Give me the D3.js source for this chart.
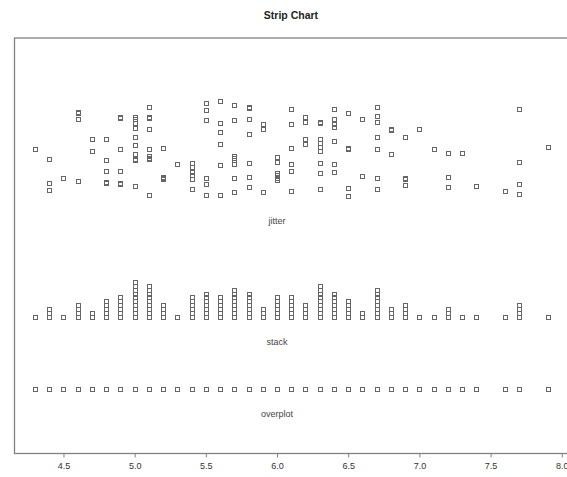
<!DOCTYPE html>
<html>
<head>
<meta charset="utf-8">
<script src="https://cdn.jsdelivr.net/npm/d3@7"></script>
<style>
  body { margin: 0; background: #fff; }
  text { font-family: "Liberation Sans", Arial, sans-serif; }
</style>
</head>
<body>
<div class="canvas"></div>
<script>
// sepal length values (distinct) and how many flowers have each one
const sepalLength = [4.3, 4.4, 4.5, 4.6, 4.7, 4.8, 4.9, 5.0, 5.1, 5.2, 5.3, 5.4, 5.5, 5.6, 5.7, 5.8, 5.9,
  6.0, 6.1, 6.2, 6.3, 6.4, 6.5, 6.6, 6.7, 6.8, 6.9, 7.0, 7.1, 7.2, 7.3, 7.4, 7.6, 7.7, 7.9]
const counts = [1, 3, 1, 4, 2, 5, 6, 10, 9, 4, 1, 6, 7, 6, 8, 7, 3,
  6, 6, 4, 9, 7, 5, 2, 8, 3, 4, 1, 1, 3, 1, 1, 1, 4, 1]

// vertical jitter, as a fraction of the jitter amount
const jitterOffsets = [
  [-0.01],
  [-0.23, -0.73, -0.86],
  [-0.61],
  [0.75, 0.73, 0.61, -0.68],
  [0.19, -0.05],
  [0.19, -0.25, -0.47, -0.70, -0.72],
  [0.64, 0.63, -0.01, -0.48, -0.73, -0.74],
  [0.64, 0.60, 0.53, 0.42, 0.23, 0.07, -0.12, -0.23, -0.24, -0.78],
  [0.86, 0.64, 0.63, 0.40, -0.01, -0.17, -0.20, -0.23, -0.98],
  [0.00, -0.59, -0.61, -0.64],
  [-0.32],
  [-0.31, -0.40, -0.50, -0.56, -0.64, -0.84],
  [0.93, 0.80, 0.59, 0.58, -0.61, -0.75, -0.97],
  [0.98, 0.53, 0.34, 0.09, -0.36, -0.97],
  [0.89, 0.59, -0.16, -0.20, -0.24, -0.34, -0.62, -0.92],
  [0.85, 0.83, 0.61, 0.30, -0.30, -0.59, -0.80],
  [0.49, 0.40, -0.92],
  [-0.18, -0.28, -0.51, -0.56, -0.61, -0.67],
  [0.82, 0.50, 0.00, -0.34, -0.47, -0.89],
  [0.64, 0.54, 0.19, 0.09],
  [0.55, 0.53, 0.18, 0.10, 0.03, -0.05, -0.31, -0.52, -0.85],
  [0.81, 0.60, 0.50, 0.44, 0.15, -0.32, -0.50],
  [0.72, 0.01, -0.01, -0.83, -0.99],
  [0.61, -0.57],
  [0.86, 0.66, 0.55, 0.23, -0.01, -0.62, -0.63, -0.85],
  [0.39, 0.37, -0.12],
  [0.23, -0.62, -0.64, -0.76],
  [0.39],
  [-0.02],
  [-0.11, -0.60, -0.80],
  [-0.10],
  [-0.78],
  [-0.90],
  [0.82, -0.28, -0.74, -0.95],
  [0.03]
]

// the three rows of the strip chart
const methods = ['overplot', 'stack', 'jitter']
const rowAt = [1.56, 3.28, 7.35]
const xTicks = [4.5, 5.0, 5.5, 6.0, 6.5, 7.0, 7.5, 8.0]
const labelAt = 6.0

const width = 567
const height = 477
const margin = { top: 38, right: -1, bottom: 23.5, left: 14.5 }
const jitterAmount = 1.16
const stackStep = 0.095
const boxSize = 4

const svg = d3.select('.canvas')
  .append('svg')
  .attr('width', width)
  .attr('height', height)

const x = d3.scaleLinear()
  .domain([4.156, 8.044])
  .range([margin.left, width - margin.right])

const y = d3.scaleLinear()
  .domain([0, 10])
  .range([height - margin.bottom, margin.top])

// title
svg.append('text')
  .attr('x', 291)
  .attr('y', 19)
  .attr('text-anchor', 'middle')
  .attr('font-size', 10.5)
  .attr('font-weight', 'bold')
  .attr('fill', '#222')
  .text('Strip Chart')

// plot box
svg.append('rect')
  .attr('x', x.range()[0])
  .attr('y', y.range()[1])
  .attr('width', x.range()[1] - x.range()[0])
  .attr('height', y.range()[0] - y.range()[1])
  .attr('fill', 'none')
  .attr('stroke', '#808080')
  .attr('stroke-width', 1.3)

// x axis
const xAxis = d3.axisBottom(x)
  .tickValues(xTicks)
  .tickFormat(d3.format('.1f'))
  .tickSize(4)
  .tickPadding(5)

const xAxisGroup = svg.append('g')
  .attr('transform', `translate(0, ${y.range()[0]})`)
  .call(xAxis)

xAxisGroup.select('.domain').remove()
xAxisGroup.selectAll('line').attr('stroke', '#808080')
xAxisGroup.selectAll('text')
  .attr('font-size', 9)
  .attr('fill', '#333')
  .attr('font-family', '"Liberation Sans", Arial, sans-serif')

// build points for each method
const points = []
sepalLength.forEach((v, i) => {
  for (let k = 0; k < counts[i]; k++) {
    points.push({ method: 'overplot', v, yv: rowAt[0] })
    points.push({ method: 'stack', v, yv: rowAt[1] + k * stackStep })
    points.push({ method: 'jitter', v, yv: rowAt[2] + jitterOffsets[i][k] * jitterAmount })
  }
})

// snap boxes to the pixel grid so overplotted ones don't darken
svg.append('g')
  .selectAll('rect')
  .data(points)
  .enter()
  .append('rect')
    .attr('x', d => Math.round(x(d.v) - boxSize / 2) + 0.5)
    .attr('y', d => Math.round(y(d.yv) - boxSize / 2) + 0.5)
    .attr('width', boxSize)
    .attr('height', boxSize)
    .attr('fill', 'none')
    .attr('stroke', '#666')
    .attr('stroke-width', 1)

// method names under each row
svg.append('g')
  .selectAll('text')
  .data(methods)
  .enter()
  .append('text')
    .attr('x', x(labelAt))
    .attr('y', (d, i) => y(rowAt[i] - (d === 'jitter' ? jitterAmount : 0) - 0.6) + 3)
    .attr('text-anchor', 'middle')
    .attr('font-size', 9)
    .attr('fill', '#444')
    .text(d => d)
</script>
</body>
</html>
